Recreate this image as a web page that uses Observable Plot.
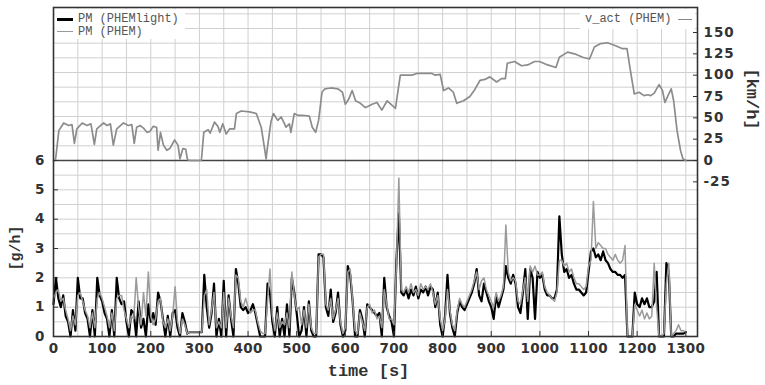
<!DOCTYPE html>
<html><head><meta charset="utf-8">
<script src="https://cdn.jsdelivr.net/npm/d3@7"></script>
<script src="https://cdn.jsdelivr.net/npm/@observablehq/plot@0.6"></script>
<style>
body{margin:0;background:#fff}
#wrap{position:relative;width:765px;height:385px}
svg g[aria-label="y-axis tick label"]{letter-spacing:1px}
svg g[aria-label="x-axis tick label"]{letter-spacing:0.3px}
.box{position:absolute;background:#fff}
.lt{position:absolute;font-family:"Liberation Mono",monospace;font-size:12px;line-height:14px;color:#555;white-space:pre}
.sw{position:absolute;height:0}
</style></head><body><div id="wrap"></div>
<script>
// ---- data ----
// time grid for PM series: sampled every 5 s from 0 to 1300 s
const pmTime = d3.range(0, 1301, 5);
// PM (PHEMlight) [g/h]
const pmLight = [
1.1,2.0,1.3,1.0,1.4,0.7,0.5,0.0,0.9,0.2,
2.0,1.3,1.3,0.8,0.6,0.0,0.9,0.0,2.0,1.4,
1.2,0.8,0.6,0.0,0.9,0.0,2.0,1.3,1.1,1.2,
0.5,0.0,0.9,0.8,0.0,1.2,0.3,0.6,0.0,1.1,
0.5,0.8,0.4,1.5,1.2,0.6,0.0,0.7,0.0,0.8,
0.9,0.3,0.0,0.8,0.5,0.1,0.15,0.15,0.15,0.15,
0.15,0.15,2.1,1.0,0.3,0.8,1.8,0.0,0.6,0.0,
1.9,0.0,1.4,0.6,0.0,2.3,1.8,1.0,0.9,1.0,
0.8,0.9,1.1,0.8,0.4,0.0,0.0,0.0,1.8,1.5,
0.5,0.0,1.0,0.0,0.6,0.0,1.1,0.0,2.0,1.5,
0.8,0.0,0.2,1.0,0.0,1.2,0.2,0.0,0.0,2.8,
2.8,2.7,1.0,0.7,1.6,0.5,0.8,1.5,0.4,0.0,
0.2,2.4,2.1,1.2,0.0,0.0,0.9,0.6,0.0,1.1,
1.0,0.9,0.8,0.7,0.8,0.0,2.0,1.0,0.7,0.5,
0.0,2.6,4.2,1.5,1.4,1.6,1.3,1.6,1.4,1.7,
1.3,1.6,1.5,1.7,1.4,1.7,1.6,1.0,1.5,0.4,
0.0,0.7,2.1,0.8,0.3,0.0,0.8,1.2,1.0,0.9,
1.1,1.3,1.5,1.8,2.3,1.4,1.2,1.8,1.5,1.2,
1.0,0.6,1.4,1.0,1.3,1.6,2.4,2.0,1.8,2.1,
1.8,1.0,0.8,1.5,2.3,0.6,2.3,2.0,0.6,2.2,
2.0,2.1,1.6,1.4,1.4,1.3,1.3,1.6,4.1,2.8,
2.2,2.3,2.0,2.1,1.8,1.6,1.6,1.5,1.4,1.5,
2.2,2.9,3.0,2.7,2.8,2.6,2.9,2.6,2.5,2.3,
2.2,2.2,2.1,2.1,2.0,2.1,0.0,0.0,0.0,1.5,
1.1,1.0,1.3,1.1,1.3,1.0,1.0,1.2,2.2,0.0,
0.0,0.0,2.5,2.2,0.0,0.0,0.1,0.1,0.1,0.1,
0.15];
// PM (PHEM) [g/h]
const pmPhem = [
1.3,1.5,1.6,1.2,1.3,0.9,0.6,0.2,0.7,0.4,
1.4,1.5,1.2,0.9,0.7,0.3,0.8,0.3,1.3,1.5,
1.3,1.0,0.7,0.3,0.8,0.2,1.3,1.4,1.4,0.9,
0.6,0.3,0.7,0.6,2.0,1.0,0.4,1.5,0.7,2.2,
0.7,0.4,0.6,1.2,1.3,0.5,0.3,0.6,0.2,0.7,
1.7,0.5,0.1,0.6,0.4,0.1,0.15,0.15,0.15,0.15,
0.15,0.15,1.4,1.6,0.4,0.9,1.5,0.3,0.5,0.3,
1.5,0.3,1.3,0.7,0.3,2.1,2.0,1.2,1.0,1.3,
1.0,0.8,0.9,0.9,0.5,0.2,0.1,0.1,1.2,2.3,
0.7,0.2,0.8,0.3,0.5,0.4,0.8,0.3,2.2,1.4,
0.9,1.0,0.4,0.9,0.3,1.1,0.3,0.1,0.1,2.7,
2.8,2.8,1.1,0.9,1.3,0.6,0.9,1.3,0.5,0.1,
0.3,2.2,2.3,1.2,0.2,0.1,0.8,0.5,0.2,1.0,
1.1,0.8,0.9,0.6,0.7,0.3,1.6,1.1,0.6,0.6,
0.4,2.4,5.4,1.6,1.5,1.7,1.5,1.8,1.5,1.6,
1.4,1.8,1.6,1.7,1.6,1.8,1.5,1.1,1.4,0.6,
0.2,0.6,1.6,0.9,0.4,0.2,0.9,1.3,1.1,1.0,
1.2,1.4,1.6,1.9,2.2,1.6,1.9,2.0,1.6,1.4,
1.2,1.0,1.5,1.2,1.4,1.7,3.8,2.2,1.9,2.0,
1.9,1.2,1.1,1.6,2.0,1.2,2.4,2.2,2.4,2.1,
2.1,2.2,1.7,1.5,1.4,1.3,1.2,1.5,2.6,2.6,
2.4,2.5,2.2,2.3,2.0,1.8,1.8,1.7,1.6,1.7,
2.4,2.6,4.6,3.0,3.2,3.1,3.0,3.0,2.8,2.7,
2.6,2.8,2.6,2.5,2.6,3.1,0.0,0.0,0.0,1.1,
0.9,0.7,0.9,0.6,0.8,0.6,0.7,2.5,1.0,0.0,
0.0,0.1,1.8,2.5,0.0,0.1,0.2,0.4,0.2,0.2,
0.15];
// v_act (PHEM) [km/h]
const vTime = [0,4,11,21,31,38,43,48,59,69,77,84,89,103,110,117,123,130,144,154,161,166,171,178,185,192,198,205,212,215,220,226,233,239,249,256,260,266,272,275,278,304,309,318,322,331,338,342,348,355,362,372,376,386,403,417,427,434,437,440,447,452,461,468,475,478,485,488,495,502,512,526,532,539,545,552,558,570,585,594,600,607,614,621,631,641,648,655,665,675,686,703,713,737,747,761,778,785,795,802,812,822,829,843,856,866,877,887,897,911,921,929,933,948,962,975,989,999,1016,1033,1040,1057,1071,1088,1102,1112,1125,1139,1153,1170,1179,1187,1194,1204,1214,1221,1228,1235,1245,1252,1257,1265,1270,1275,1282,1289,1294,1300];
const vSpeed = [0,0,35,44,41,42,20,37,44,41,43,19,37,44,41,43,18,37,44,41,42,20,39,41,38,33,34,40,39,12,33,18,12,14,24,18,2,14,13,2,0,0,33,36,32,45,40,33,43,31,37,37,55,58,57,55,39,14,2,16,45,55,47,51,43,39,43,33,55,53,53,52,39,33,47,80,84,85,84,80,66,72,82,70,67,62,64,66,68,59,70,61,100,100,102,102,102,100,101,82,85,80,67,70,75,83,94,95,98,92,96,96,114,116,111,112,116,116,112,109,121,127,125,121,119,133,137,138,135,131,131,102,78,80,76,77,76,79,89,82,68,78,84,70,35,12,2,0];
// axis ticks
const xTicks = [0,100,200,300,400,500,600,700,800,900,1000,1100,1200,1300];
const leftTicks = [0,1,2,3,4,5,6];
const rightTicks = [-25,0,25,50,75,100,125,150];
const xTitle = "time [s]", leftTitle = "[g/h]", rightTitle = "[km/h]";
const legendLabels = ["PM (PHEMlight)", "PM (PHEM)", "v_act (PHEM)"];

// ---- build ----
const pmRows = pmTime.map((t, i) => ({t, light: pmLight[i], phem: pmPhem[i]}));
const vRows = vTime.map((t, i) => ({t, v: vSpeed[i]}));
// secondary (right) axis: 0 km/h sits at 6 g/h, 34.375 km/h per g/h unit
const vToY = v => 6 + v / 34.375;
const yToV = y => String(Math.round((y - 6) * 34.375));

const chart = Plot.plot({
  width: 765, height: 385,
  marginLeft: 53, marginRight: 68, marginTop: 7, marginBottom: 49,
  x: {domain: [0, 1324]},
  y: {domain: [0, 11.216]},
  style: {fontFamily: "DejaVu Sans", fontSize: "13.5px", fontWeight: "bold", color: "#333", background: "#fff"},
  marks: [
    Plot.gridX(d3.range(0, 1324, 50), {stroke: "#d0d0d0", strokeOpacity: 1}),
    Plot.gridY(d3.range(0, 11.1, 0.5), {stroke: "#d0d0d0", strokeOpacity: 1}),
    Plot.ruleY([6], {stroke: "#444", strokeWidth: 1.3}),
    Plot.line(vRows, {x: "t", y: d => vToY(d.v), stroke: "#8c8c8c", strokeWidth: 1.7}),
    Plot.line(pmRows, {x: "t", y: "light", stroke: "#000", strokeWidth: 2.2}),
    Plot.line(pmRows, {x: "t", y: "phem", stroke: "#9a9a9a", strokeWidth: 1.5}),
    Plot.frame({stroke: "#333", strokeWidth: 1.6}),
    Plot.axisX(xTicks, {anchor: "bottom", tickSize: -5, tickPadding: 12, tickFormat: d => String(d), label: null}),
    Plot.axisY(leftTicks, {anchor: "left", tickSize: -5, tickPadding: 13, tickFormat: d => String(d), label: null}),
    Plot.axisY(rightTicks.map(vToY), {anchor: "right", tickSize: -5, tickPadding: 11, tickFormat: yToV, label: null}),
    Plot.text([xTitle], {text: d => d, frameAnchor: "bottom", textAnchor: "middle", dx: -7, dy: 39, fontFamily: "Liberation Mono", fontSize: 17, fontWeight: "bold", fill: "#333"}),
    Plot.text([leftTitle], {text: d => d, frameAnchor: "left", textAnchor: "middle", dx: -38, dy: 76, rotate: -90, fontFamily: "Liberation Mono", fontSize: 15, fontWeight: "bold", fill: "#333"}),
    Plot.text([rightTitle], {text: d => d, frameAnchor: "right", textAnchor: "middle", dx: 55, dy: -73, rotate: 90, fontFamily: "Liberation Mono", fontSize: 17, fontWeight: "bold", fill: "#333"})
  ]
});
const wrap = document.getElementById("wrap");
wrap.appendChild(chart);

// legend overlays
function add(cls, css, text) {
  const d = document.createElement("div");
  d.className = cls; d.style.cssText = css;
  if (text) d.textContent = text;
  wrap.appendChild(d);
}
add("box", "left:55px;top:9px;width:130px;height:30px;");
add("sw", "left:57px;top:18px;width:16px;border-top:3px solid #000;");
add("lt", "left:78px;top:12px;", legendLabels[0]);
add("sw", "left:57px;top:31px;width:16px;border-top:1.5px solid #999;");
add("lt", "left:78px;top:25px;", legendLabels[1]);
add("box", "left:580px;top:9px;width:115px;height:20px;");
add("lt", "left:585px;top:12px;", legendLabels[2]);
add("sw", "left:678px;top:19px;width:14px;border-top:1.5px solid #888;");
</script></body></html>
